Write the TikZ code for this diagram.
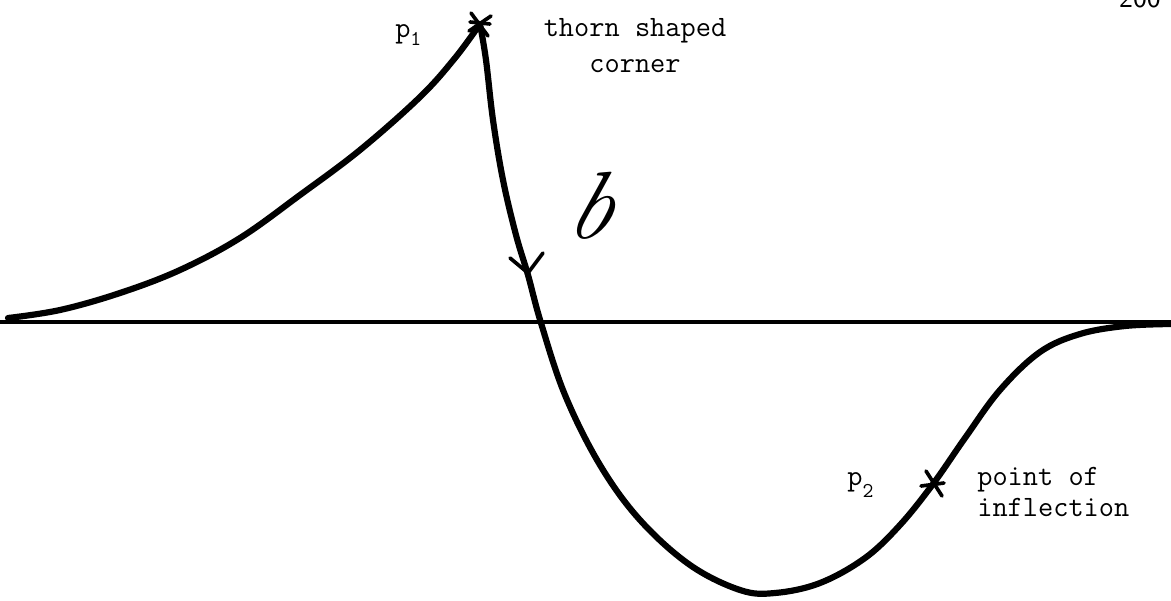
\documentclass[tikz,border=0pt]{standalone}
\usetikzlibrary{calc}
\begin{document}
\begin{tikzpicture}[x=0.025cm,y=-0.025cm,
  curve/.style={line width=4.4pt,line cap=round,line join=round},
  axisline/.style={line width=2.8pt},
  mark line/.style={line width=2.6pt,line cap=round},
  lbl/.style={font=\ttfamily\fontsize{21}{25}\selectfont,inner sep=0pt},
  lblL/.style={lbl,align=left,anchor=base west},
  lblC/.style={lbl,align=center,anchor=base}]
\useasboundingbox (0,0) rectangle (1171,600);
% axis
\coordinate (axL) at (0,322);
\coordinate (axR) at (1171,322);
\draw[axisline] (axL) -- (axR);
% named points
\coordinate (p1) at (480,24);
\coordinate (p2) at (933,484);
\coordinate (tip) at (528,273);
\coordinate (armL) at (510,258);
\coordinate (armR) at (543,253);
% rising branch
\draw[curve] plot[smooth,tension=0.6] coordinates {(8,318) (60,310) (120,293) (180,270) (240,238) (300,195) (360,150) (420,97) (455,58) (p1)};
% falling branch
\draw[curve] plot[smooth,tension=0.6] coordinates {(p1) (486,60) (493,120) (503,180) (516,235) (528,275) (541,323) (565,395) (600,465) (640,520) (690,565) (740,590) (775,593) (820,583) (865,558) (900,525) (p2) (965,438) (1000,390) (1040,352) (1080,334) (1125,326) (1171,324)};
% arrowhead on branch
\draw[mark line] (armL) -- (tip) -- (armR);
% thorn marker
\draw[mark line] ($(p1)+(-9,-11)$) -- ($(p1)+(8,12)$);
\draw[mark line] ($(p1)+(-11,7)$) -- ($(p1)+(11,-8)$);
\draw[mark line] ($(p1)+(-10,-2)$) -- ($(p1)+(10,0)$);
% inflection marker
\draw[mark line] ($(p2)+(-7,-13)$) -- ($(p2)+(9,12)$);
\draw[mark line] ($(p2)+(-12,2)$) -- ($(p2)+(11,-1)$);
% labels
\node[lblL] (lp1) at (395,37) {p\raisebox{-6pt}{\fontsize{15}{15}\selectfont 1}};
\node[lblC] (lthorn) at (635,72) {thorn shaped\\corner};
\node[inner sep=0pt,anchor=base,xslant=0.3,font=\fontsize{68}{68}\selectfont\itshape] (lb) at (585,238) {b};
\node[lblL] (lp2) at (847,485) {p\raisebox{-9pt}{\fontsize{15}{15}\selectfont 2}};
\node[lblL,font=\ttfamily\fontsize{21}{22}\selectfont] (linf) at (977,516) {point of\\inflection};
\node[font=\sffamily\fontsize{21}{21}\selectfont,inner sep=0pt,anchor=base] (pg) at (1140,7) {200};
\end{tikzpicture}
\end{document}
